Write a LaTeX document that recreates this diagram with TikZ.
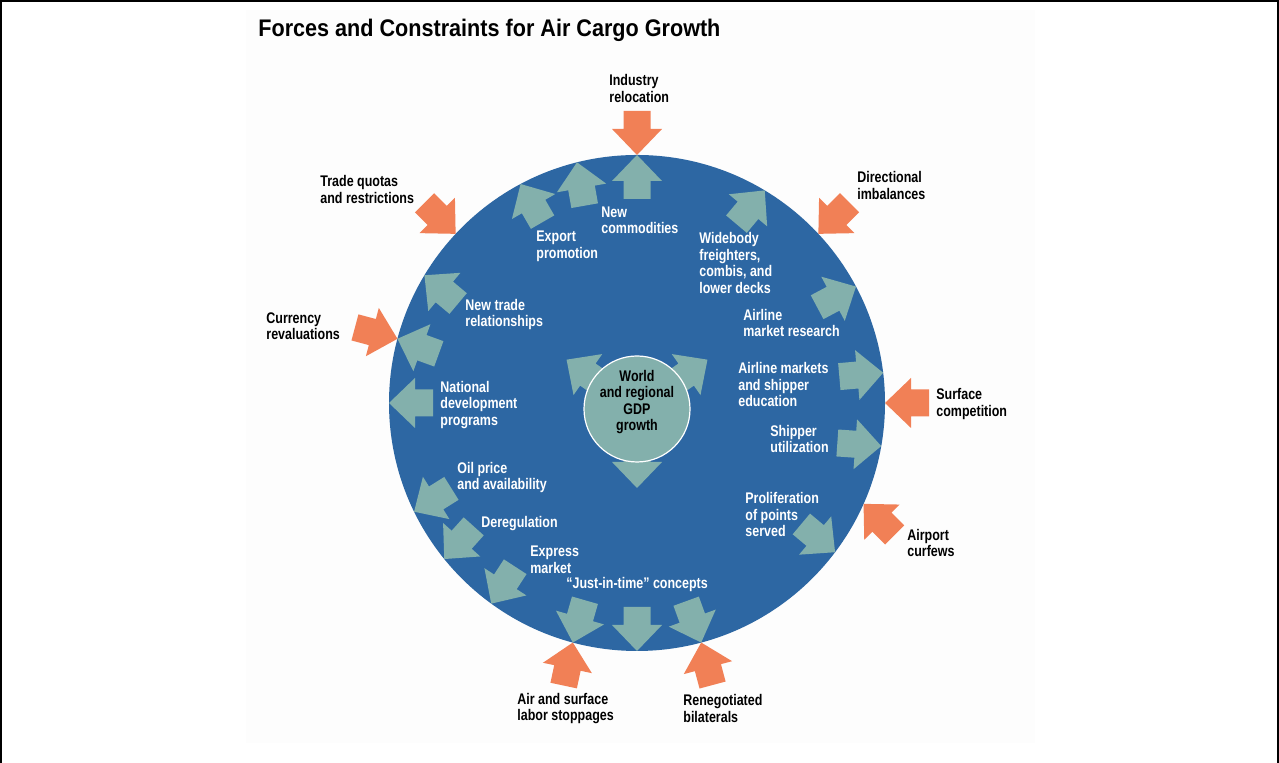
\documentclass[tikz,border=0pt]{standalone}
\usepackage{fontspec}
\usepackage{tikz}
\usetikzlibrary{calc}

\newfontfamily\labelfont{Liberation Sans}[FakeStretch=0.81]
\newfontfamily\titlefont{Liberation Sans}[FakeStretch=0.9]

\definecolor{globeblue}{RGB}{45,103,163}
\definecolor{pushteal}{RGB}{131,176,172}
\definecolor{curborange}{RGB}{241,128,86}

\tikzset{
  pics/fatarrow/.style={code={
    \fill[#1] (0,0) -- (-26,25) -- (-26,13.5) -- (-44,13.5) -- (-44,-13.5) -- (-26,-13.5) -- (-26,-25) -- cycle;
  }},
}

\begin{document}
\begin{tikzpicture}[x=0.5pt, y=0.5pt,
    outer/.style={font=\labelfont\bfseries\fontsize{7.7}{8.25}\selectfont, align=left, anchor=west, inner sep=0pt},
    inner/.style={outer, text=white}]
    \useasboundingbox (0,0) rectangle (1279,763);
    \fill[black!0.7] (246,20) rectangle (1035,753);
    \draw[line width=1pt] (1,0) -- (1,762) -- (1278,762) -- (1278,0);
    \node[anchor=west, inner sep=0pt, font=\titlefont\bfseries\fontsize{12}{14}\selectfont] (title) at (258,733) {Forces and Constraints for Air Cargo Growth};

    \node[circle, fill=globeblue, minimum size=248pt, inner sep=0pt, outer sep=0pt] (globe) at (637,360) {};
    \foreach \a/\d in {90/90, 104.6/100, 118.9/120, 149.5/140, 165.3/160, 180/180, 206.8/212, 219.6/228, 234/237,
                       255/254, 270/270, 285.8/290, 323.3/320, 350.3/356, 7.7/5, 28.6/28, 59.6/50}
        \path (globe.\a) pic[rotate=\d] {fatarrow=pushteal};
    \foreach \a/\d in {90/270, 137/315, 165.3/345, 43.2/225, 0/180, 336.1/135, 255/78, 285.8/105}
        \path (globe.\a) pic[rotate=\d] {fatarrow=curborange};

    \coordinate (core) at (637,354);
    \foreach \d/\r in {145/86, 35/86, 270/79}
        \path (core) ++(\d:\r) pic[rotate=\d] {fatarrow=pushteal};
    \node[circle, fill=pushteal, draw=white, line width=0.6pt, minimum size=53pt, inner sep=0pt] (gdp) at (core) {};
    \node[outer, anchor=center, align=center] (gdplabel) at (637,361) {World\\and regional\\GDP\\growth};

    \node[outer] (relocation) at (609,674.5) {Industry\\relocation};
    \node[outer] (quotas) at (320,573.5) {Trade quotas\\and restrictions};
    \node[outer] (imbalances) at (857,577.5) {Directional\\imbalances};
    \node[outer] (currency) at (266,437) {Currency\\revaluations};
    \node[outer] (surface) at (936,359) {Surface\\competition};
    \node[outer] (curfews) at (907,220) {Airport\\curfews};
    \node[outer] (stoppages) at (517,54.5) {Air and surface\\labor stoppages};
    \node[outer] (bilaterals) at (683,54.5) {Renegotiated\\bilaterals};

    \node[inner] (commodities) at (601,542.5) {New\\commodities};
    \node[inner] (export) at (536,516.5) {Export\\promotion};
    \node[inner] (widebody) at (699,500) {Widebody\\freighters,\\combis, and\\lower decks};
    \node[inner] (trade) at (465,448.5) {New trade\\relationships};
    \node[inner] (research) at (743,440) {Airline\\market research};
    \node[inner] (national) at (440,358) {National\\development\\programs};
    \node[inner] (education) at (738,378) {Airline markets\\and shipper\\education};
    \node[inner] (utilization) at (770,324) {Shipper\\utilization};
    \node[inner] (oil) at (457,285.5) {Oil price\\and availability};
    \node[inner] (points) at (745,248) {Proliferation\\of points\\served};
    \node[inner] (dereg) at (481,239) {Deregulation};
    \node[inner] (express) at (530,203) {Express\\market};
    \node[inner] (jit) at (566,178) {“Just-in-time” concepts};
\end{tikzpicture}
\end{document}
